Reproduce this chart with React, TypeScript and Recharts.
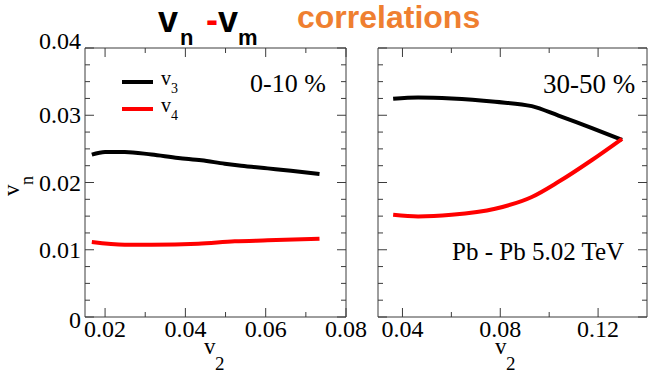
import { LineChart, Line, XAxis, YAxis } from 'recharts';

// 0-10 % panel
const leftV2 = [0.0167, 0.02, 0.0249, 0.0316, 0.0382, 0.044, 0.0498, 0.0539, 0.0605, 0.0663, 0.0734];
const leftV3 = [0.02415, 0.02455, 0.02455, 0.02415, 0.02365, 0.0233, 0.0228, 0.0225, 0.0221, 0.02175, 0.02125];
const leftV4X = [0.0167, 0.0249, 0.0316, 0.0432, 0.0523, 0.0605, 0.0734];
const leftV4 = [0.01115, 0.01075, 0.01075, 0.0109, 0.01125, 0.0114, 0.01165];

// 30-50 % panel
const rightV2 = [0.0362, 0.0464, 0.0601, 0.0779, 0.0929, 0.1038, 0.1175, 0.1298];
const rightV3 = [0.03245, 0.03265, 0.0325, 0.032, 0.03135, 0.02995, 0.0281, 0.02635];
const rightV4 = [0.0152, 0.01495, 0.0152, 0.0161, 0.01785, 0.0201, 0.02335, 0.0265];

// ticks
const leftXMajor = [0.02, 0.04, 0.06, 0.08];
const leftXMinor = [0.03, 0.05, 0.07];
const rightXMajor = [0.04, 0.08, 0.12];
const rightXMinor = [0.06, 0.1];
const yMajor = [0, 0.01, 0.02, 0.03, 0.04];
const yMinor = [0.0025, 0.005, 0.0075, 0.0125, 0.015, 0.0175, 0.0225, 0.025, 0.0275, 0.0325, 0.035, 0.0375];

const W = 654;
const H = 376;
const BOX = '#3c3c3c';
const SERIF = 'Liberation Serif, serif';
const SANS = 'Liberation Sans, sans-serif';

const fmt = (v: number) => (v === 0 ? '0' : v.toFixed(2));

const toPts = (xs: number[], ys: number[]) => xs.map((x, i) => ({ x, y: ys[i] }));

const xTick = (majors: number[], side: 'bottom' | 'top') => (props: any) => {
  const { x, y, payload } = props;
  const major = majors.includes(payload.value);
  const len = major ? 9 : 5;
  const dir = side === 'bottom' ? -1 : 1;
  return (
    <g>
      <line x1={x} y1={y} x2={x} y2={y + dir * len} stroke={BOX} strokeWidth={1} />
      {side === 'bottom' && major && (
        <text x={x} y={y + 20} textAnchor="middle" fontFamily={SERIF} fontSize={24} fill="#000">
          {fmt(payload.value)}
        </text>
      )}
    </g>
  );
};

const yTick = (side: 'left' | 'right', labels: boolean) => (props: any) => {
  const { x, y, payload } = props;
  const major = yMajor.includes(payload.value);
  const len = major ? 9 : 5;
  const dir = side === 'left' ? 1 : -1;
  let dy = 8;
  if (payload.value === 0.04) dy = 1;
  if (payload.value === 0) dy = 11;
  return (
    <g>
      <line x1={x} y1={y} x2={x + dir * len} y2={y} stroke={BOX} strokeWidth={1} />
      {labels && major && (
        <text x={x - 4} y={y + dy} textAnchor="end" fontFamily={SERIF} fontSize={24} fill="#000">
          {fmt(payload.value)}
        </text>
      )}
    </g>
  );
};

type PanelProps = {
  margin: { top: number; right: number; bottom: number; left: number };
  xDomain: [number, number];
  xMajor: number[];
  xMinor: number[];
  yLabels: boolean;
  v3: { x: number; y: number }[];
  v4: { x: number; y: number }[];
};

// axes are given a 1px band (recharts skips axes of zero size), so margins are 1px short
const Panel = ({ margin, xDomain, xMajor, xMinor, yLabels, v3, v4 }: PanelProps) => {
  const xt = [...xMajor, ...xMinor];
  const yt = [...yMajor, ...yMinor];
  return (
    <div style={{ position: 'absolute', left: 0, top: 0 }}>
      <LineChart width={W} height={H} margin={margin}>
        <XAxis xAxisId="b" type="number" dataKey="x" domain={xDomain} ticks={xt} interval={0}
          tickSize={0} tickMargin={0} tickLine={false} height={1} stroke={BOX} allowDataOverflow
          tick={xTick(xMajor, 'bottom')} />
        <XAxis xAxisId="t" orientation="top" type="number" dataKey="x" domain={xDomain} ticks={xt} interval={0}
          tickSize={0} tickMargin={0} tickLine={false} height={1} stroke={BOX} allowDataOverflow
          tick={xTick(xMajor, 'top')} />
        <YAxis yAxisId="l" type="number" domain={[0, 0.04]} ticks={yt} interval={0}
          tickSize={0} tickMargin={0} tickLine={false} width={1} stroke={BOX} allowDataOverflow
          tick={yTick('left', yLabels)} />
        <YAxis yAxisId="r" orientation="right" type="number" domain={[0, 0.04]} ticks={yt} interval={0}
          tickSize={0} tickMargin={0} tickLine={false} width={1} stroke={BOX} allowDataOverflow
          tick={yTick('right', false)} />
        <Line xAxisId="b" yAxisId="l" data={v3} dataKey="y" type="monotone" stroke="#000"
          strokeWidth={4} dot={false} isAnimationActive={false} />
        <Line xAxisId="b" yAxisId="l" data={v4} dataKey="y" type="monotone" stroke="#ff0000"
          strokeWidth={4} dot={false} isAnimationActive={false} />
      </LineChart>
    </div>
  );
};

const App = () => (
  <div style={{ position: 'absolute', left: 0, top: 0, width: W, height: H, background: '#fff' }}>
    <Panel
      margin={{ top: 47, right: W - 346 - 1, bottom: H - 317 - 1, left: 84 }}
      xDomain={[0.015, 0.08]}
      xMajor={leftXMajor}
      xMinor={leftXMinor}
      yLabels
      v3={toPts(leftV2, leftV3)}
      v4={toPts(leftV4X, leftV4)}
    />
    <Panel
      margin={{ top: 47, right: W - 647 - 1, bottom: H - 317 - 1, left: 377 }}
      xDomain={[0.03, 0.14]}
      xMajor={rightXMajor}
      xMinor={rightXMinor}
      yLabels={false}
      v3={toPts(rightV2, rightV3)}
      v4={toPts(rightV2, rightV4)}
    />
    <svg width={W} height={H} style={{ position: 'absolute', left: 0, top: 0, pointerEvents: 'none' }}>
      {/* title */}
      <g fontFamily={SANS} fontWeight="bold">
        <text x={158} y={32} fontSize={36} fill="#000">v</text>
        <text x={180} y={45} fontSize={22} fill="#000">n</text>
        <text x={206} y={32} fontSize={36} fill="#ff0000">-</text>
        <text x={218} y={32} fontSize={36} fill="#000">v</text>
        <text x={238} y={45} fontSize={22} fill="#000">m</text>
        <text x={297} y={28} fontSize={32} fill="#ef7f30">correlations</text>
      </g>
      {/* axis titles */}
      <g fontFamily={SERIF} fill="#000">
        <g transform="translate(19,196) rotate(-90)">
          <text x={0} y={0} fontSize={23}>v</text>
          <text x={11} y={14} fontSize={18}>n</text>
        </g>
        <text x={204} y={354} fontSize={23}>v</text>
        <text x={215} y={370} fontSize={19}>2</text>
        <text x={495} y={354} fontSize={23}>v</text>
        <text x={506} y={370} fontSize={19}>2</text>
      </g>
      {/* legend */}
      <line x1={122} y1={82} x2={153} y2={82} stroke="#000" strokeWidth={4} />
      <line x1={122} y1={109} x2={153} y2={109} stroke="#ff0000" strokeWidth={4} />
      <g fontFamily={SERIF} fill="#000">
        <text x={161} y={85} fontSize={20}>v</text>
        <text x={171} y={93} fontSize={14}>3</text>
        <text x={161} y={112} fontSize={20}>v</text>
        <text x={171} y={120} fontSize={14}>4</text>
        <text x={250} y={92} fontSize={26}>0-10 %</text>
        <text x={543} y={93} fontSize={27}>30-50 %</text>
        <text x={452} y={260} fontSize={25}>Pb - Pb 5.02 TeV</text>
      </g>
    </svg>
  </div>
);

export default App;
